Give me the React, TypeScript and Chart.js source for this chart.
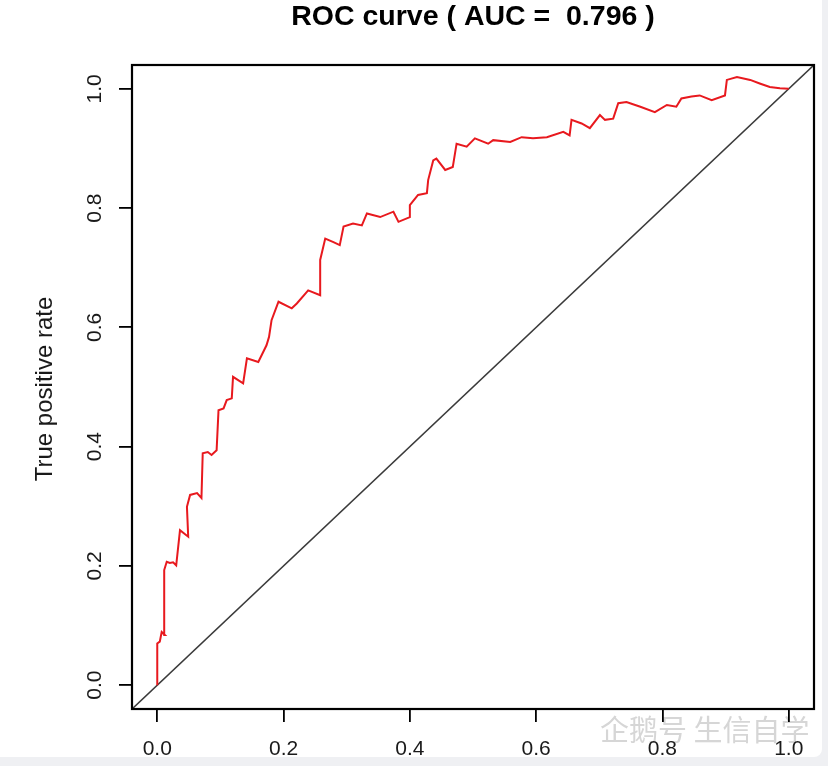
import React, { useEffect, useRef } from "react";
import { Chart, registerables } from "chart.js";

Chart.register(...registerables);

const TITLE = "ROC curve ( AUC =  0.796 )";
const Y_LABEL = "True positive rate";
const X_TICKS = [0, 0.2, 0.4, 0.6, 0.8, 1.0];
const Y_TICKS = [0, 0.2, 0.4, 0.6, 0.8, 1.0];
const WATERMARK = "企鹅号 生信自学";

// ROC curve (false positive rate, true positive rate)
const FPR = [
  0.0, 0.0, 0.004, 0.007, 0.012, 0.011, 0.015, 0.02, 0.025, 0.03, 0.036, 0.049,
  0.047, 0.052, 0.063, 0.07, 0.072, 0.08, 0.086, 0.094, 0.097, 0.105, 0.11, 0.118,
  0.12, 0.136, 0.142, 0.16, 0.173, 0.177, 0.181, 0.192, 0.213, 0.221, 0.239, 0.258,
  0.258, 0.266, 0.279, 0.289, 0.295, 0.31, 0.324, 0.332, 0.353, 0.374, 0.382, 0.4,
  0.4, 0.413, 0.427, 0.429, 0.437, 0.442, 0.456, 0.468, 0.474, 0.49, 0.503, 0.524,
  0.532, 0.559, 0.577, 0.595, 0.617, 0.643, 0.653, 0.656, 0.672, 0.685, 0.701, 0.709,
  0.722, 0.73, 0.743, 0.765, 0.788, 0.807, 0.822, 0.83, 0.846, 0.859, 0.878, 0.899,
  0.902, 0.918, 0.939, 0.954, 0.97, 0.986, 1.0,
];
const TPR = [
  0.0, 0.07, 0.073, 0.089, 0.084, 0.193, 0.207, 0.205, 0.206, 0.201, 0.26, 0.249,
  0.299, 0.319, 0.322, 0.314, 0.389, 0.391, 0.386, 0.394, 0.461, 0.464, 0.478, 0.481,
  0.517, 0.506, 0.548, 0.542, 0.57, 0.584, 0.612, 0.643, 0.632, 0.64, 0.662, 0.654,
  0.713, 0.749, 0.743, 0.738, 0.769, 0.774, 0.771, 0.791, 0.785, 0.794, 0.777, 0.785,
  0.805, 0.822, 0.825, 0.847, 0.88, 0.883, 0.864, 0.869, 0.908, 0.903, 0.917, 0.908,
  0.914, 0.911, 0.919, 0.917, 0.919, 0.928, 0.922, 0.948, 0.942, 0.934, 0.956, 0.948,
  0.95, 0.976, 0.978, 0.97, 0.961, 0.973, 0.97, 0.984, 0.987, 0.989, 0.981, 0.989,
  1.015, 1.02, 1.015, 1.009, 1.003, 1.001, 1.0,
];
// reference diagonal (extends past the box, clipped)
const DIAG_X = [-0.1, 1.1];
const DIAG_Y = [-0.1, 1.1];

const FONT = '"Liberation Sans", Arial, Helvetica, sans-serif';

const decor = {
  id: "decor",
  beforeDraw(chart: any) {
    const { ctx, width, height } = chart;
    ctx.save();
    ctx.fillStyle = "#eff0f3";
    ctx.fillRect(0, 0, width, height);
    ctx.fillStyle = "#ffffff";
    ctx.beginPath();
    if (ctx.roundRect) ctx.roundRect(-10, -10, 832, 767, 8);
    else ctx.rect(-10, -10, 832, 767);
    ctx.fill();
    ctx.font = '29px "Noto Sans CJK SC", sans-serif';
    ctx.fillStyle = "#d6d6d6";
    ctx.textAlign = "left";
    ctx.textBaseline = "alphabetic";
    ctx.fillText(WATERMARK, 600, 741);
    ctx.restore();
  },
  afterDraw(chart: any) {
    const { ctx, chartArea: a, scales } = chart;
    ctx.save();
    ctx.strokeStyle = "#000";
    ctx.lineWidth = 2.2;
    ctx.strokeRect(a.left, a.top, a.right - a.left, a.bottom - a.top);
    ctx.fillStyle = "#1a1a1a";
    ctx.font = `21px ${FONT}`;
    ctx.textAlign = "center";
    ctx.textBaseline = "alphabetic";
    X_TICKS.forEach((v) => {
      ctx.fillText(v.toFixed(1), scales.x.getPixelForValue(v), 755);
    });
    Y_TICKS.forEach((v) => {
      const y = scales.y.getPixelForValue(v);
      ctx.save();
      ctx.translate(101, y);
      ctx.rotate(-Math.PI / 2);
      ctx.fillText(v.toFixed(1), 0, 0);
      ctx.restore();
    });
    ctx.font = `24px ${FONT}`;
    ctx.save();
    ctx.translate(52, (a.top + a.bottom) / 2 + 2);
    ctx.rotate(-Math.PI / 2);
    ctx.fillText(Y_LABEL, 0, 0);
    ctx.restore();
    ctx.restore();
  },
};

export default function App() {
  const ref = useRef<HTMLCanvasElement | null>(null);
  useEffect(() => {
    if (!ref.current) return;
    const chart = new Chart(ref.current, {
      type: "scatter",
      data: {
        datasets: [
          {
            data: FPR.map((x, i) => ({ x, y: TPR[i] })),
            showLine: true,
            borderColor: "#e8191e",
            borderWidth: 2,
            pointRadius: 0,
            tension: 0,
          },
          {
            data: DIAG_X.map((x, i) => ({ x, y: DIAG_Y[i] })),
            showLine: true,
            borderColor: "#3a3a3a",
            borderWidth: 1.6,
            pointRadius: 0,
          },
        ],
      },
      options: {
        responsive: false,
        animation: false,
        layout: { padding: { left: 0, right: 14, top: 0, bottom: 0 } },
        plugins: {
          legend: { display: false },
          tooltip: { enabled: false },
          title: {
            display: true,
            text: TITLE,
            fullSize: false,
            color: "#000",
            font: { family: FONT, size: 28.5, weight: "bold" },
            padding: { top: 0, bottom: 30.8 },
          },
        },
        scales: {
          x: {
            type: "linear",
            min: -0.04,
            max: 1.04,
            afterBuildTicks: (s: any) => {
              s.ticks = X_TICKS.map((v) => ({ value: v }));
            },
            afterFit: (s: any) => {
              s.height = 57;
            },
            ticks: { display: false },
            grid: { drawOnChartArea: false, drawTicks: true, tickLength: 13, color: "#000", lineWidth: 1.8 },
            border: { display: false },
          },
          y: {
            type: "linear",
            min: -0.04,
            max: 1.04,
            afterBuildTicks: (s: any) => {
              s.ticks = Y_TICKS.map((v) => ({ value: v }));
            },
            afterFit: (s: any) => {
              s.width = 132;
            },
            ticks: { display: false },
            grid: { drawOnChartArea: false, drawTicks: true, tickLength: 13, color: "#000", lineWidth: 1.8 },
            border: { display: false },
          },
        },
      },
      plugins: [decor],
    });
    return () => chart.destroy();
  }, []);
  return (
    <div style={{ position: "fixed", left: 0, top: 0, width: 828, height: 766 }}>
      <canvas ref={ref} width={828} height={766} style={{ display: "block" }} />
    </div>
  );
}
